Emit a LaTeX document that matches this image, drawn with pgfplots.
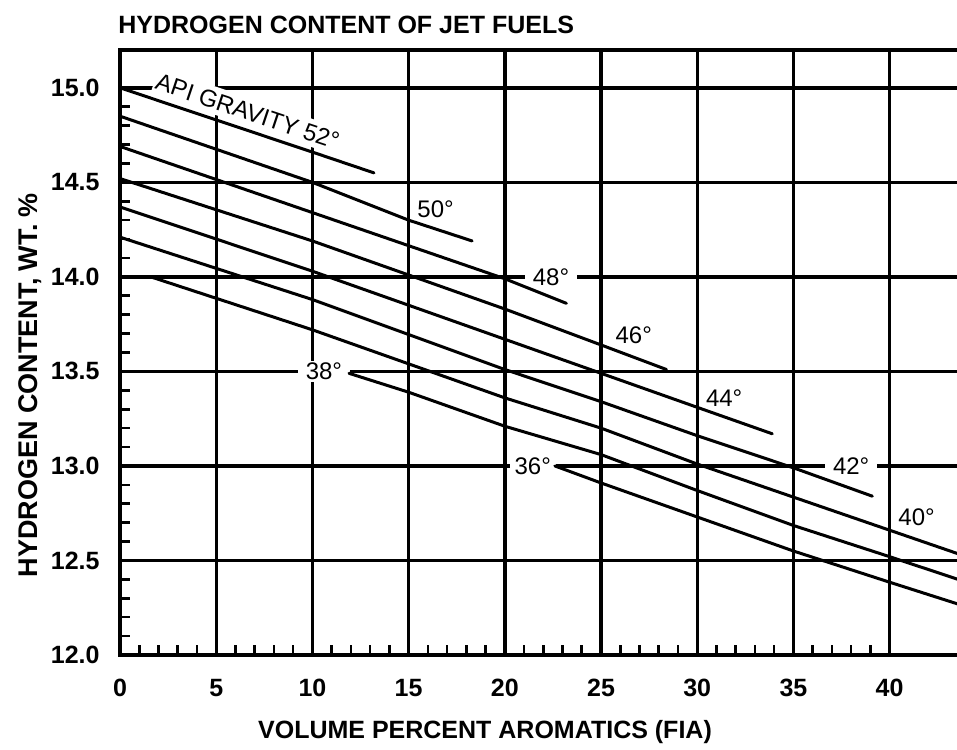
\documentclass[border=0pt]{standalone}
\usepackage{fontspec}
\setmainfont{Liberation Sans}
\usepackage{pgfplots}
\pgfplotsset{compat=1.18}
\newcommand{\tickfont}{\bfseries\fontsize{12.5bp}{15bp}\selectfont}
\newcommand{\labfont}{\fontsize{12bp}{14bp}\selectfont}
\tikzset{
  lbl/.style={fill=white, inner xsep=4bp, inner ysep=1bp, font=\labfont},
  flbl/.style={inner sep=0.5bp, font=\labfont},
}
\pgfplotsset{crv/.style={black, solid, no markers, line width=1.5bp, line join=round, line cap=round}}
\begin{document}
\begin{tikzpicture}
\begin{axis}[
  name=ax,
  at={(0,0)}, anchor=south west,
  scale only axis, width=423.3bp, height=302.5bp,
  xmin=0, xmax=44, ymin=12, ymax=15.2,
  xtick={0,5,...,40}, ytick={12,12.5,...,15},
  minor x tick num=4, minor y tick num=4,
  xtick pos=bottom, ytick pos=left,
  tick align=inside,
  major tick length=0pt, minor tick length=5bp,
  every minor tick/.style={line width=1.3bp, black},
  grid=major,
  major grid style={line width=1.7bp, black},
  axis line style={line width=2bp, black},
  /pgf/number format/assume math mode=true,
  yticklabel style={/pgf/number format/fixed, /pgf/number format/fixed zerofill, /pgf/number format/precision=1,
    font=\tickfont, anchor=east, inner sep=0pt, xshift=-10bp},
  xticklabel style={font=\tickfont, anchor=north, inner sep=0pt, yshift=-12bp},
]
% labels sitting on grid lines (drawn first so that curves pass over their boxes)
\node[lbl] at (axis cs:22.4,14.0) {48°};
\node[lbl] at (axis cs:38.0,13.0) {42°};
\node[lbl] at (axis cs:10.6,13.5) {38°};
\node[lbl, inner xsep=2.5bp] at (axis cs:21.45,13.0) {36°};
% labels in open space
\node[flbl] at (axis cs:16.4,14.36) {50°};
\node[flbl] at (axis cs:26.7,13.69) {46°};
\node[flbl] at (axis cs:31.4,13.36) {44°};
\node[flbl] at (axis cs:41.4,12.73) {40°};
% 52
\addplot[crv] coordinates {(0,15.00) (5,14.83) (10,14.66) (13.2,14.55)}
  node[pos=0.48, sloped, above=1.5bp, fill=white, inner xsep=1bp, inner ysep=2.5bp, font=\fontsize{12bp}{14bp}\selectfont] {API GRAVITY 52°};
% 50
\addplot[crv] coordinates {(0,14.85) (10,14.50) (15,14.30) (18.3,14.19)};
% 48
\addplot[crv] coordinates {(0,14.69) (10,14.34) (20,13.99) (23.2,13.86)};
% 46
\addplot[crv] coordinates {(0,14.52) (10,14.19) (20,13.83) (25,13.64) (28.4,13.51)};
% 44
\addplot[crv] coordinates {(0,14.37) (10,14.03) (20,13.67) (25,13.49) (30,13.31) (33.9,13.17)};
% 42
\addplot[crv] coordinates {(0,14.21) (10,13.88) (20,13.51) (25,13.34) (30,13.16) (35,12.99) (39.1,12.84)};
% 40
\addplot[crv] coordinates {(1.6,14.00) (10,13.72) (20,13.36) (25,13.20) (30,13.01) (35,12.835) (40,12.66) (44,12.52)};
% 38
\addplot[crv] coordinates {(11.9,13.49) (15,13.39) (20,13.21) (25,13.06) (30,12.87) (35,12.685) (40,12.52) (44,12.385)};
% 36
\addplot[crv] coordinates {(22.6,13.00) (25,12.91) (30,12.73) (35,12.55) (40,12.385) (44,12.255)};
\end{axis}
\node[anchor=base west, inner sep=0pt, font=\bfseries\fontsize{12.5bp}{15bp}\selectfont]
  at ([xshift=-1bp, yshift=8bp]ax.north west) {HYDROGEN CONTENT OF JET FUELS};
\node[inner sep=0pt, font=\bfseries\fontsize{12.5bp}{15bp}\selectfont]
  at ([xshift=182.5bp, yshift=-38.5bp]ax.south west) {VOLUME PERCENT AROMATICS (FIA)};
\node[inner sep=0pt, rotate=90, font=\bfseries\fontsize{13.5bp}{16bp}\selectfont]
  at ([xshift=-45bp, yshift=135bp]ax.south west) {HYDROGEN CONTENT, WT. \%};
\pgfresetboundingbox
\useasboundingbox (-60bp,-47.5bp) rectangle (418.5bp,327.5bp);
\end{tikzpicture}
\end{document}
